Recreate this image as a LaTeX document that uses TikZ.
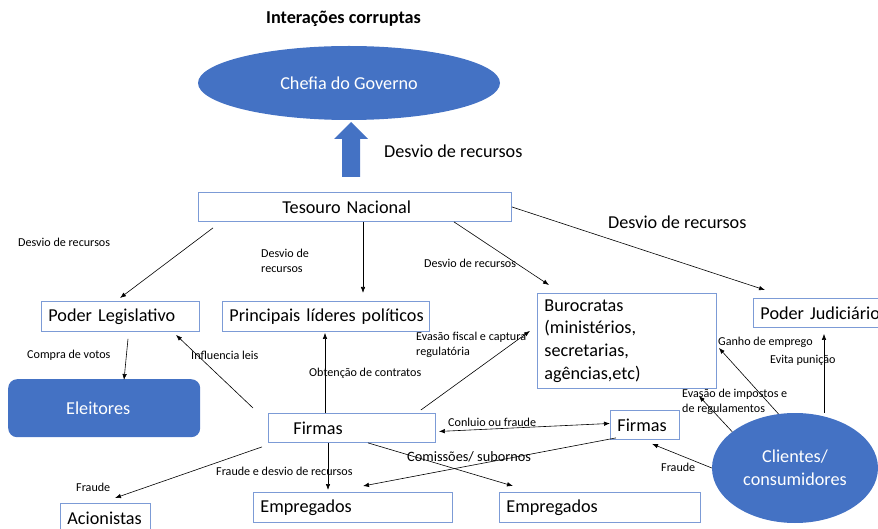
\documentclass[tikz,border=0pt]{standalone}
\usepackage{fontspec}
\setmainfont{Carlito}
\usetikzlibrary{arrows.meta,shapes.geometric}
\definecolor{azul}{RGB}{68,114,196}
\definecolor{borda}{RGB}{124,155,214}
\newcommand{\grande}{\fontsize{18.2}{22.8}\selectfont}
\newcommand{\pequeno}{\fontsize{12.1}{15}\selectfont}
\tikzset{
  caixa/.style={draw=borda, line width=0.9pt, anchor=north west, inner xsep=7pt, inner ysep=0pt, font=\grande, align=left},
  rotulo/.style={anchor=west, inner sep=0pt, font=\pequeno, align=left},
  seta/.style={-{Latex[length=6pt,width=4.5pt]}, line width=0.6pt},
  bolha/.style={ellipse, fill=azul, text=white, inner sep=0pt, font=\grande, align=center}
}
\begin{document}
\begin{tikzpicture}[x=1pt,y=-1pt]
		\useasboundingbox (0,0) rectangle (878,529);
		% titulo e chefia
		\node[anchor=west, inner sep=0pt, font=\bfseries\fontsize{18.2}{22}\selectfont] (titulo) at (266,19) {Interações corruptas};
		\node[bolha, minimum width=302, minimum height=74] (chefia) at (349,83) {Chefia do Governo};
		\fill[azul] (342,177) -- (342,139) -- (334,139) -- (351,122) -- (368,139) -- (360,139) -- (360,177) -- cycle;
		\node[rotulo, font=\grande] (desvioA) at (384,151) {Desvio de recursos};
		% caixas
		\node[caixa, text width=299, minimum height=29] (tesouro) at (198,192) {\hspace*{77pt}Tesouro Nacional};
		\node[caixa, text width=144, minimum height=30] (legislativo) at (41,301) {Poder Legislativo};
		\node[caixa, inner xsep=3.5pt, text width=200, minimum height=30] (lideres) at (222,301) {\hspace*{3.5pt}Principais líderes políticos};
		\node[caixa, text width=165, minimum height=95] (burocratas) at (537,293) {Burocratas\\(ministérios,\\secretarias,\\agências,etc)};
		\node[caixa, text width=126, minimum height=29] (judiciario) at (753,298) {Poder Judiciário};
		\node[anchor=north west, fill=azul, rounded corners=9pt, minimum width=192, minimum height=58, text=white, font=\grande] (eleitores) at (8,379) {\hspace*{-12pt}Eleitores};
		\node[caixa, text width=153, minimum height=29] (firmasA) at (268,413) {\hspace*{18pt}Firmas};
		\node[caixa, text width=55, minimum height=29] (firmasB) at (610,410) {Firmas};
		\node[caixa, text width=185, minimum height=30] (empregadosA) at (253,492) {Empregados};
		\node[caixa, text width=187, minimum height=30] (empregadosB) at (499,492) {Empregados};
		\node[caixa, text width=76, minimum height=30] (acionistas) at (60,503) {Acionistas};
		\node[bolha, minimum width=166, minimum height=110] (clientes) at (795,468) {Clientes/\\consumidores};
		% setas do tesouro
		\draw[seta] ([shift={(15,6)}]tesouro.south west) -- ([shift={(79,-3)}]legislativo.north west);
		\draw[seta] ([xshift=165]tesouro.south west) -- ([shift={(141,-8)}]lideres.north west);
		\draw[seta] ([xshift=256]tesouro.south west) -- ([shift={(12,-8)}]burocratas.north west);
		\draw[seta] (tesouro.east) -- ([shift={(12,-8)}]judiciario.north west);
		\node[rotulo] (desvioB) at (18,242) {Desvio de recursos};
		\node[rotulo] (desvioC) at (261,261) {Desvio de\\recursos};
		\node[rotulo] (desvioD) at (424,263) {Desvio de recursos};
		\node[rotulo, font=\grande] (desvioE) at (608,222) {Desvio de recursos};
		% legislativo e firmas
		\draw[seta] ([shift={(87,7)}]legislativo.south west) -- ([shift={(116,1)}]eleitores.north west);
		\draw[seta] ([shift={(-15,-5)}]firmasA.north west) -- ([shift={(135,3)}]legislativo.south west);
		\draw[seta] ([xshift=57]firmasA.north west) -- ([shift={(103,1)}]lideres.south west);
		\draw[seta] ([shift={(-15,-3)}]firmasA.north east) -- ([shift={(-7,-58)}]burocratas.south west);
		\draw[{Latex[length=6pt,width=4.5pt]}-{Latex[length=6pt,width=4.5pt]}, line width=0.6pt] ([shift={(3,3.5)}]firmasA.east) -- ([yshift=1.5]firmasB.west);
		\draw[seta] ([shift={(-6,4)}]firmasA.south west) -- ([shift={(55,-5)}]acionistas.north west);
		\draw[seta] ([xshift=60]firmasA.south west) -- ([shift={(75,-2)}]empregadosA.north west);
		\draw[seta] ([xshift=100]firmasA.south west) -- ([shift={(14,-6)}]empregadosB.north west);
		\draw[seta] ([shift={(6,-2)}]firmasB.south west) -- ([shift={(110,-6)}]empregadosA.north west);
		\node[rotulo] (compra) at (27,355) {Compra de votos};
		\node[rotulo] (influencia) at (191,355) {Influencia leis};
		\node[rotulo] (obtencao) at (309,373) {Obtenção de contratos};
		\node[rotulo] (evasaoA) at (416,345) {Evasão fiscal e captura\\regulatória};
		\node[rotulo] (conluio) at (448,422) {Conluio ou fraude};
		\node[rotulo, font=\fontsize{14.3}{17}\selectfont] (comissoes) at (407,457) {Comissões/ subornos};
		\node[rotulo] (fraudeA) at (216,471) {Fraude e desvio de recursos};
		\node[rotulo] (fraudeB) at (76,487) {Fraude};
		% clientes
		\draw[seta] (clientes.107) -- ([shift={(2,-41)}]burocratas.south east);
		\draw[seta] (clientes.150) -- ([shift={(-18,7)}]burocratas.south east);
		\draw[seta] ([xshift=29]clientes.north) -- ([shift={(71,6)}]judiciario.south west);
		\draw[seta] (clientes.west) -- ([shift={(42,4)}]firmasB.south west);
		\node[rotulo] (ganho) at (718,342) {Ganho de emprego};
		\node[rotulo] (evita) at (770,360) {Evita punição};
		\node[rotulo] (evasaoB) at (682,402) {Evasão de impostos e\\de regulamentos};
		\node[rotulo] (fraudeC) at (661,467) {Fraude};
\end{tikzpicture}
\end{document}
